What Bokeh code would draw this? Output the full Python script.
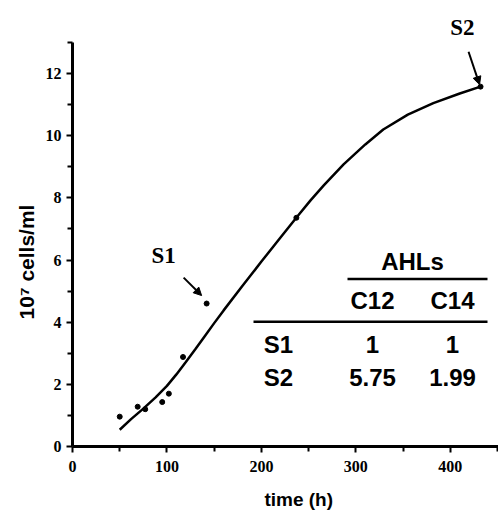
from bokeh.plotting import figure
from bokeh.models import FixedTicker, Arrow, NormalHead, Label, Title
from bokeh.embed import file_html
from bokeh.resources import INLINE
from bokeh.core.properties import value

# ---- data ----
time_h = [50, 69, 77, 95, 102, 117, 142, 237, 432]
cells = [0.96, 1.28, 1.20, 1.43, 1.70, 2.88, 4.60, 7.36, 11.58]

fit_time = [50, 62, 75, 88, 100, 110, 120, 130, 140, 150, 160, 180, 200, 220, 238, 252, 266, 287, 310, 329, 355, 382, 410, 432]
fit_cells = [0.54, 0.88, 1.22, 1.58, 1.95, 2.32, 2.72, 3.13, 3.55, 3.97, 4.38, 5.17, 5.95, 6.72, 7.40, 7.92, 8.40, 9.08, 9.72, 10.20, 10.68, 11.05, 11.36, 11.58]

x_ticks = [0, 100, 200, 300, 400]
y_ticks = [0, 2, 4, 6, 8, 10, 12]

strains = ["S1", "S2"]
ahl_cols = ["C12", "C14"]
c12 = ["1", "5.75"]
c14 = ["1", "1.99"]
s1_idx, s2_idx = 6, 8

# ---- layout ----
W, H = 498, 512
L, R, T, B = 72, 0, 42, 65
X1, Y1 = 451, 13
FW, FH = W - L - R, H - T - B
sx, sy = FW / X1, FH / Y1


def dx(page_x):
    return (page_x - L) / sx


def dy(page_y):
    return (T + FH - page_y) / sy


p = figure(width=W, height=H, x_range=(0, X1), y_range=(0, Y1),
           output_backend="svg", toolbar_location=None,
           min_border_left=L, min_border_right=R, min_border_top=T, min_border_bottom=B)
p.outline_line_color = None
p.grid.visible = False
p.background_fill_color = "white"
p.border_fill_color = "white"

TICKFONT = "Liberation Sans Narrow"
for ax in (p.xaxis[0], p.yaxis[0]):
    ax.axis_line_width = 3
    ax.axis_line_color = "black"
    ax.major_tick_line_width = 2
    ax.minor_tick_line_width = 2
    ax.major_tick_in = 0
    ax.minor_tick_in = 0
    ax.major_tick_out = 6
    ax.minor_tick_out = 5
    ax.major_label_text_font = TICKFONT
    ax.major_label_text_font_style = "bold"
    ax.major_label_text_font_size = "16px"
    ax.major_label_text_color = "black"
    ax.axis_label_text_font = "Liberation Sans"
    ax.axis_label_text_font_style = "bold"
    ax.axis_label_text_color = "black"

NB = "\u00a0"
p.xaxis.ticker = FixedTicker(ticks=x_ticks, minor_ticks=[t + 50 for t in x_ticks])
p.yaxis.ticker = FixedTicker(ticks=y_ticks, minor_ticks=[t + 1 for t in y_ticks])
p.xaxis.axis_label = NB * 5 + "time (h)"
p.xaxis.axis_label_text_font_size = "19px"
p.xaxis.major_label_standoff = 8
p.xaxis.axis_label_standoff = 14
p.yaxis.axis_label = "10\u2077 cells/ml" + NB * 6
p.yaxis.axis_label_text_font_size = "21px"
p.yaxis.major_label_standoff = 5
p.yaxis.axis_label_standoff = 5

# fitted curve and measured points
p.line(fit_time, fit_cells, line_color="black", line_width=2.5)
p.scatter(time_h, cells, size=5, color="black")

# S1 / S2 annotations (offsets in pixels from the marked points)
x1, y1 = time_h[s1_idx], cells[s1_idx]
p.add_layout(Label(x=x1 - 43 / sx, y=y1 + 48 / sy, text="S1",
                   text_font="Liberation Serif", text_font_style="bold",
                   text_font_size="23px", text_align="center",
                   text_baseline="middle", text_color="black"))
x2, y2 = time_h[s2_idx], cells[s2_idx]
p.add_layout(Title(text="S2", align="right", offset=24, standoff=5,
                   text_font="Liberation Serif", text_font_style="bold",
                   text_font_size="23px", text_color="black"), "above")
for xp, yp, a_s, a_e in [(x1, y1, (-23, 26), (-5, 8)), (x2, y2, (-12, 35), (-1, 2))]:
    p.add_layout(Arrow(end=NormalHead(size=8, fill_color="black", line_color="black"),
                       x_start=xp + a_s[0] / sx, y_start=yp + a_s[1] / sy,
                       x_end=xp + a_e[0] / sx, y_end=yp + a_e[1] / sy,
                       line_width=2, line_color="black"))

# table
sans = value("Liberation Sans")
col_x = [dx(372), dx(452)]
row_y = [dy(345), dy(378)]
tkw = dict(text_font=sans, text_font_style="bold", text_font_size="24px",
           text_align="center", text_baseline="middle", text_color="black")
p.text([(col_x[0] + col_x[1]) / 2], [dy(262)], text=["AHLs"], **tkw)
p.segment([dx(347)], [dy(279)], [dx(487)], [dy(279)], line_color="black", line_width=2.5)
p.text(col_x, [dy(301)] * 2, text=ahl_cols, **tkw)
p.segment([dx(253)], [dy(322)], [dx(487)], [dy(322)], line_color="black", line_width=2.5)
p.text([dx(278)] * 2, row_y, text=strains, **tkw)
p.text([col_x[0]] * 2, row_y, text=c12, **tkw)
p.text([col_x[1]] * 2, row_y, text=c14, **tkw)

open("out.html", "w").write(file_html(p, INLINE))
